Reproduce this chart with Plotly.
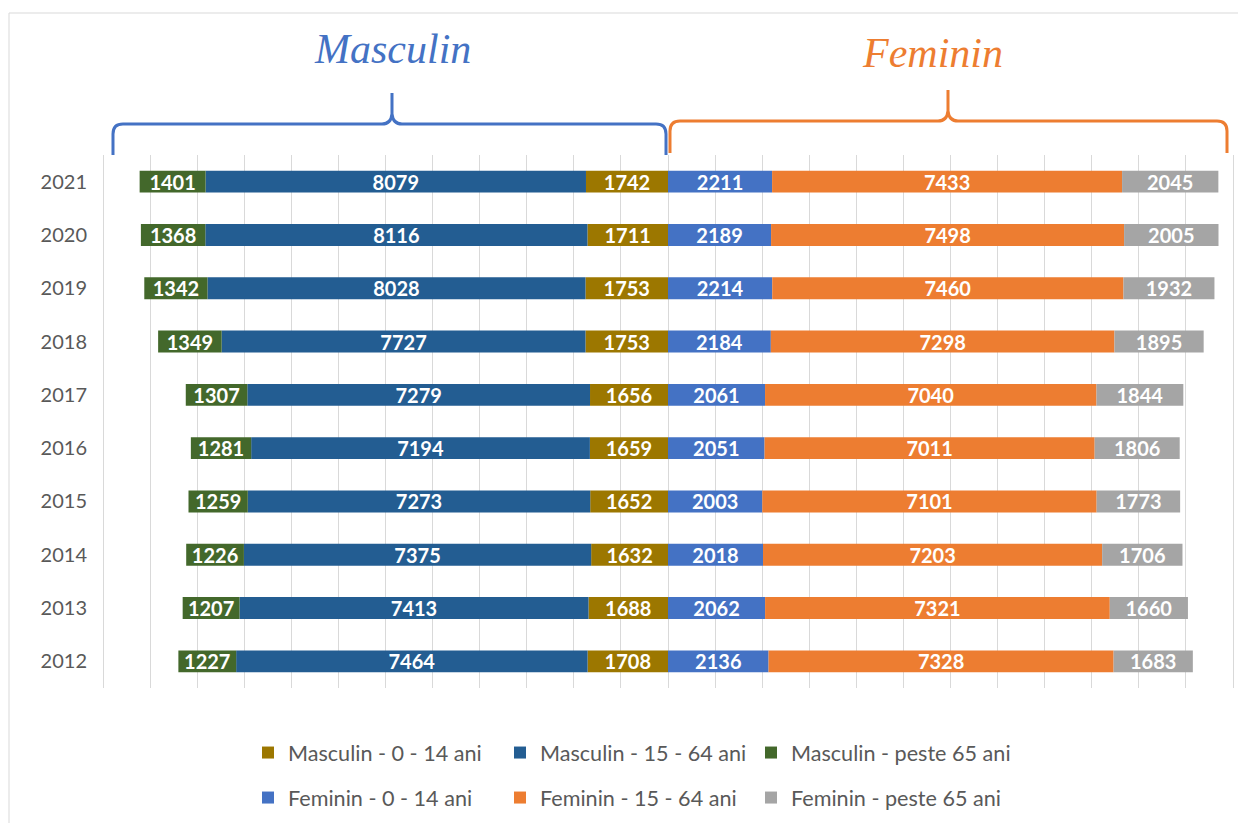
import plotly.graph_objects as go

years = ["2012", "2013", "2014", "2015", "2016", "2017", "2018", "2019", "2020", "2021"]

masc_0_14 = [1708, 1688, 1632, 1652, 1659, 1656, 1753, 1753, 1711, 1742]
masc_15_64 = [7464, 7413, 7375, 7273, 7194, 7279, 7727, 8028, 8116, 8079]
masc_65 = [1227, 1207, 1226, 1259, 1281, 1307, 1349, 1342, 1368, 1401]

fem_0_14 = [2136, 2062, 2018, 2003, 2051, 2061, 2184, 2214, 2189, 2211]
fem_15_64 = [7328, 7321, 7203, 7101, 7011, 7040, 7298, 7460, 7498, 7433]
fem_65 = [1683, 1660, 1706, 1773, 1806, 1844, 1895, 1932, 2005, 2045]

series = [
    ("Masculin - 0 - 14 ani", masc_0_14, "#9C7700", -1),
    ("Masculin - 15 - 64 ani", masc_15_64, "#235D92", -1),
    ("Masculin - peste 65 ani", masc_65, "#43682B", -1),
    ("Feminin - 0 - 14 ani", fem_0_14, "#4472C4", 1),
    ("Feminin - 15 - 64 ani", fem_15_64, "#ED7D31", 1),
    ("Feminin - peste 65 ani", fem_65, "#A5A5A5", 1),
]

FONT = "Lato, 'Open Sans', sans-serif"

# page has an 8px body margin; figure starts at (8, 8) in the window
OFF = 8
FIG_W, FIG_H = 1246 - OFF, 823 - OFF
# reference plot geometry in window pixels: -12000 at x=103, +12000 at x=1233
X0, X1, T, B = 103, 1233, 155, 688
SCALE = (X1 - X0) / 24000.0
PADPX = 2
L, R = X0 - PADPX, X1 + PADPX
W, H = R - L, B - T
XRANGE = [-12000 - PADPX / SCALE, 12000 + PADPX / SCALE]


def px(x):
    return (x - L) / W


def py(y):
    return (B - y) / H


# legend slots (window px): square left edge columns, row centres
LEG_COLS = [262, 514, 765]
LEG_ROWS = [753, 798]

fig = go.Figure()
for i, (name, vals, color, sign) in enumerate(series):
    leg = "legend" if i == 0 else f"legend{i + 1}"
    fig.add_trace(go.Bar(
        y=years,
        x=[sign * v for v in vals],
        orientation="h",
        name=name,
        marker=dict(color=color, line=dict(width=0)),
        text=[str(v) for v in vals],
        textposition="inside",
        insidetextanchor="middle",
        textangle=0,
        constraintext="none",
        textfont=dict(family=FONT, size=20, color="white", weight="bold"),
        legend=leg,
        hoverinfo="skip",
    ))


def brace(xl, xr, xc, yh, ytip, ybot, r):
    pts = [
        ("M", [(xl, ybot)]),
        ("L", [(xl, yh + r)]),
        ("Q", [(xl, yh), (xl + r, yh)]),
        ("L", [(xc - r, yh)]),
        ("Q", [(xc - 1, yh), (xc, yh - r)]),
        ("L", [(xc, ytip)]),
        ("L", [(xc, yh - r)]),
        ("Q", [(xc + 1, yh), (xc + r, yh)]),
        ("L", [(xr - r, yh)]),
        ("Q", [(xr, yh), (xr, yh + r)]),
        ("L", [(xr, ybot)]),
    ]
    s = ""
    for cmd, ps in pts:
        s += cmd + " ".join(f"{px(a):.5f},{py(b):.5f}" for a, b in ps) + " "
    return s.strip()


shapes = [
    dict(type="rect", xref="paper", yref="paper",
         x0=px(9), x1=px(1270), y0=py(850), y1=py(13),
         line=dict(color="#D9D9D9", width=1), fillcolor="rgba(0,0,0,0)", layer="below"),
    dict(type="path", xref="paper", yref="paper",
         path=brace(113, 666, 392, 124, 93, 155, 10),
         line=dict(color="#4472C4", width=3)),
    dict(type="path", xref="paper", yref="paper",
         path=brace(670, 1227, 948, 121, 90, 153, 10),
         line=dict(color="#ED7D31", width=3)),
]

annotations = [
    dict(text="Masculin", xref="paper", yref="paper", x=px(392), y=py(49),
         showarrow=False, xanchor="center", yanchor="middle",
         font=dict(family="'Liberation Serif', 'Times New Roman', serif", size=42,
                   color="#4472C4", style="italic")),
    dict(text="Feminin", xref="paper", yref="paper", x=px(932), y=py(53),
         showarrow=False, xanchor="center", yanchor="middle",
         font=dict(family="'Liberation Serif', 'Times New Roman', serif", size=42,
                   color="#ED7D31", style="italic")),
]

legends = {}
for i in range(len(series)):
    key = "legend" if i == 0 else f"legend{i + 1}"
    col, row = i % 3, i // 3
    legends[key] = dict(
        orientation="h", xanchor="left", yanchor="middle",
        x=px(LEG_COLS[col] - 14), y=py(LEG_ROWS[row]),
        font=dict(family=FONT, size=21.6, color="#595959"),
        bgcolor="rgba(0,0,0,0)",
    )

fig.update_layout(
    width=FIG_W, height=FIG_H,
    margin=dict(l=L - OFF, r=FIG_W - (R - OFF), t=T - OFF, b=FIG_H - (B - OFF), pad=0,
                autoexpand=False),
    paper_bgcolor="white", plot_bgcolor="white",
    barmode="relative", bargap=0.59,
    showlegend=True,
    xaxis=dict(range=XRANGE, dtick=1000, tick0=0, showticklabels=False,
               showgrid=True, gridcolor="#D9D9D9", gridwidth=1,
               zeroline=True, zerolinecolor="#D9D9D9", zerolinewidth=1,
               showline=False, fixedrange=True),
    yaxis=dict(type="category", categoryorder="array", categoryarray=years,
               tickfont=dict(family=FONT, size=20, color="#595959"),
               showgrid=False, zeroline=False, showline=False, ticks="",
               ticklabelstandoff=13, range=[-0.5, 9.5]),
    shapes=shapes,
    annotations=annotations,
    **legends,
)

fig.write_html("out.html")
